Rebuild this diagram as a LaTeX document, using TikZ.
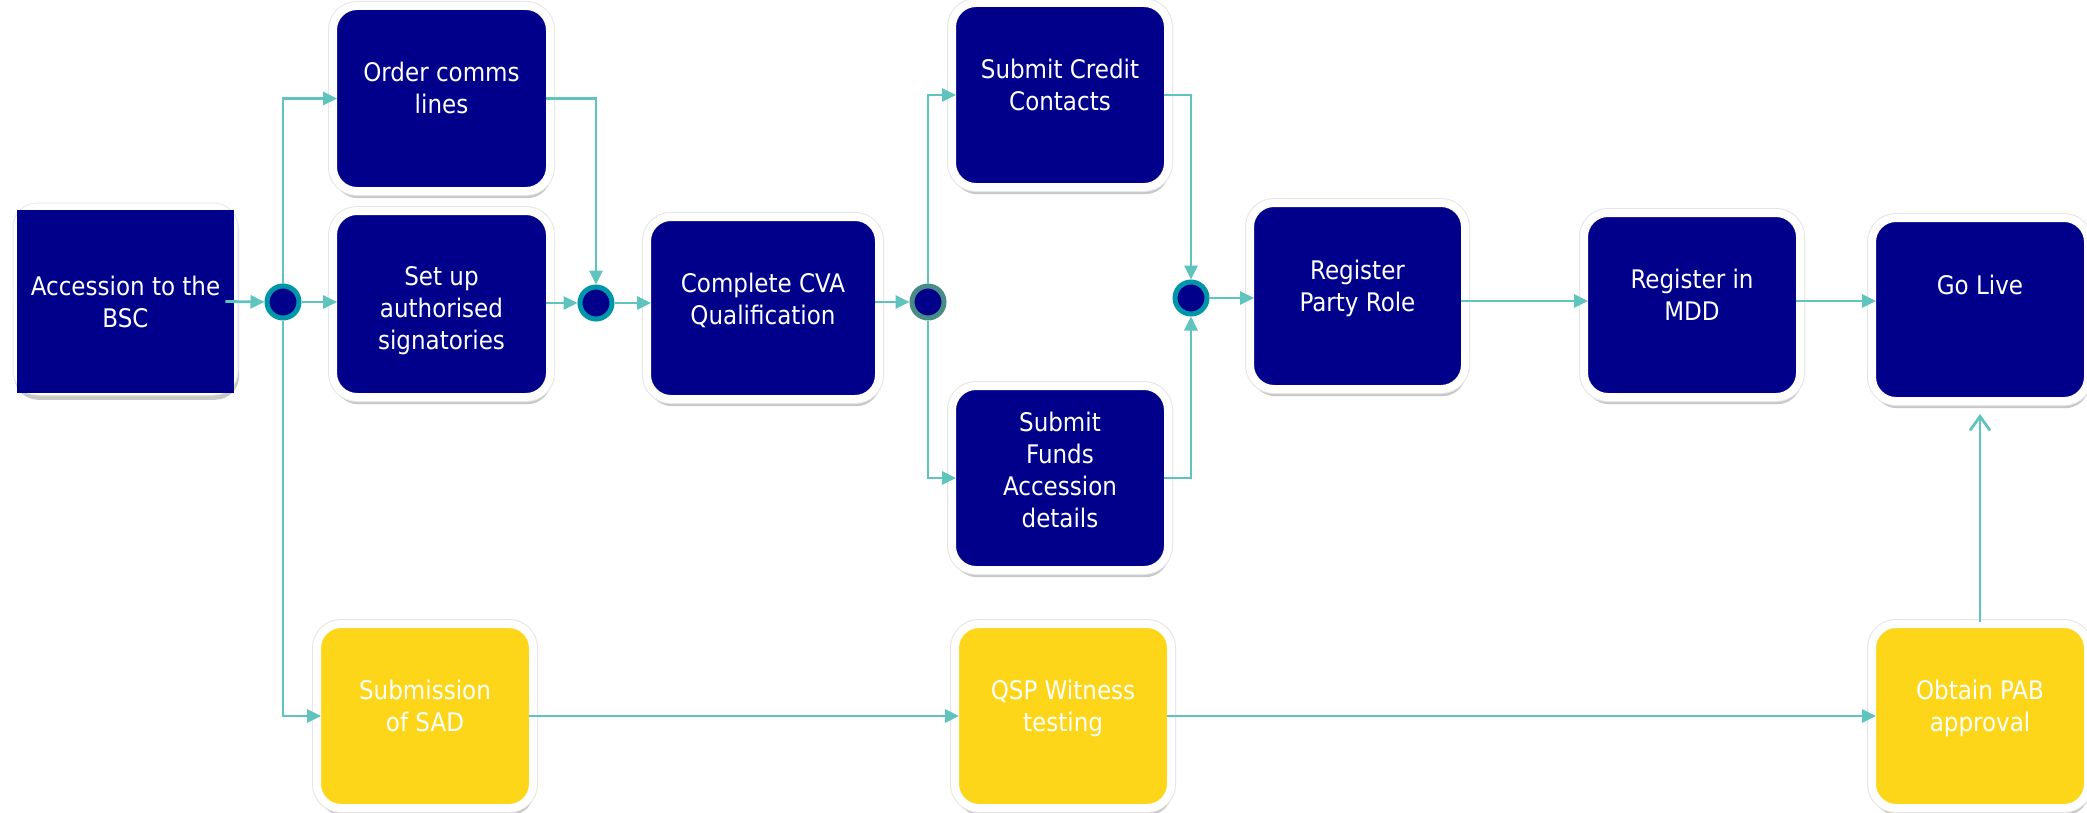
\documentclass[tikz,border=0pt]{standalone}
\usepackage{fontspec}
\setmainfont{DejaVu Sans Condensed}
\usetikzlibrary{arrows.meta,shadows}
\definecolor{navyb}{RGB}{0,0,139}
\definecolor{yel}{RGB}{253,214,26}
\definecolor{tealline}{RGB}{95,196,190}
\definecolor{ringa}{RGB}{0,150,170}
\definecolor{ringb}{RGB}{72,140,135}
\begin{document}
\begin{tikzpicture}[x=0.5pt,y=-0.5pt,
  box/.style={draw=white, line width=4pt, rounded corners=12pt, outer sep=-2pt, inner sep=0pt,
    drop shadow={shadow xshift=0.6pt,shadow yshift=-3.6pt,opacity=0.3,fill=black!70},
    preaction={draw=black!10, line width=5pt}},
  navybox/.style={box, fill=navyb, minimum width=108pt, minimum height=92pt},
  yelbox/.style={box, fill=yel, minimum width=108pt, minimum height=92pt},
  txt/.style={text=white, align=center, font=\fontsize{12.8}{16}\selectfont, inner sep=0pt,
    anchor=north, execute at begin node=\strut},
  junc/.style={circle, draw=ringa, fill=navyb, line width=2.5pt, minimum size=16pt, inner sep=0pt},
  flow/.style={draw=tealline, line width=1.4pt, -{Triangle[length=7pt,width=6.5pt]}},
  openflow/.style={draw=tealline, line width=1.4pt, -{Straight Barb[length=7pt,width=10pt]}}
]
\useasboundingbox[fill=white] (0,0) rectangle (2087,813);

% Accession box
\node[fill=white, draw=black!8, line width=0.5pt, rounded corners=12pt, inner sep=0pt, minimum width=112.5pt, minimum height=96pt,
  drop shadow={shadow xshift=0.6pt,shadow yshift=-2.4pt,opacity=0.3,fill=black!70}] (Abg) at (125.5,299) {};
\node[fill=navyb, inner sep=0pt, minimum width=108.5pt, minimum height=91.5pt] (A) at (125.5,301.5) {};
\node[txt] (At) at ([yshift=-32.8pt]A.north) {Accession to the\\BSC};

% dark boxes
\node[navybox, minimum width=108.5pt, minimum height=92.5pt] (OC) at (441.5,98.5) {};
\node[txt] (OCt) at ([yshift=-26pt]OC.north) {Order comms\\lines};
\node[navybox, minimum width=108.5pt, minimum height=93pt] (SU) at (441.5,304) {};
\node[txt] (SUt) at ([yshift=-25.6pt]SU.north) {Set up\\authorised\\signatories};
\node[navybox, minimum width=116pt, minimum height=91pt] (CVA) at (763,308) {};
\node[txt] (CVAt) at ([yshift=-25.8pt]CVA.north) {Complete CVA\\Qualification};
\node[navybox] (SC) at (1060,95) {};
\node[txt] (SCt) at ([yshift=-25.6pt]SC.north) {Submit Credit\\Contacts};
\node[navybox] (SF) at (1060,478) {};
\node[txt] (SFt) at ([yshift=-10.6pt]SF.north) {Submit\\Funds\\Accession\\details};
\node[navybox, minimum width=107.5pt, minimum height=93pt] (RP) at (1357.5,296) {};
\node[txt] (RPt) at ([yshift=-26.5pt]RP.north) {Register\\Party Role};
\node[navybox] (MDD) at (1692,305) {};
\node[txt] (MDDt) at ([yshift=-25.8pt]MDD.north) {Register in\\MDD};
\node[navybox, minimum height=91.5pt] (GL) at (1980,309.5) {};
\node[txt] (GLt) at ([yshift=-25pt]GL.north) {Go Live};

% yellow boxes
\node[yelbox] (SAD) at (425,716) {};
\node[txt] (SADt) at ([yshift=-25.6pt]SAD.north) {Submission\\of SAD};
\node[yelbox] (QSP) at (1063,716) {};
\node[txt] (QSPt) at ([yshift=-25.6pt]QSP.north) {QSP Witness\\testing};
\node[yelbox] (PAB) at (1980,716) {};
\node[txt] (PABt) at ([yshift=-25.6pt]PAB.north) {Obtain PAB\\approval};

% junctions
\node[junc] (J1) at (283,302) {};
\node[junc] (J2) at (596,303) {};
\node[junc, draw=ringb] (J3) at (928,302) {};
\node[junc] (J4) at (1191,298) {};

% connectors
\draw[flow] ([xshift=-4.5pt]A.east) -- (J1.west);
\draw[flow] (J1.east) -- (J1.east -| SU.west);
\draw[flow] (J1.north) |- (OC.west);
\draw[flow] (J1.south) |- (SAD.west);
\draw[flow] (OC.east) -| (J2.north);
\draw[flow] (SU.east |- J2.west) -- (J2.west);
\draw[flow] (J2.east) -- (J2.east -| CVA.west);
\draw[flow] (CVA.east |- J3.west) -- (J3.west);
\draw[flow] (J3.north) |- (SC.west);
\draw[flow] (J3.south) |- (SF.west);
\draw[flow] (SC.east) -| (J4.north);
\draw[flow] (SF.east) -| (J4.south);
\draw[flow] (J4.east) -- (J4.east -| RP.west);
\draw[flow] ([yshift=-2.5pt]RP.east) -- ([yshift=-2.5pt]RP.east -| MDD.west);
\draw[flow] ([yshift=2pt]MDD.east) -- ([yshift=2pt]MDD.east -| GL.west);
\draw[flow] (SAD.east) -- (SAD.east -| QSP.west);
\draw[flow] (QSP.east) -- (QSP.east -| PAB.west);
\draw[openflow] ([yshift=3pt]PAB.north) -- ([yshift=-8.5pt]GL.south);
\end{tikzpicture}
\end{document}
